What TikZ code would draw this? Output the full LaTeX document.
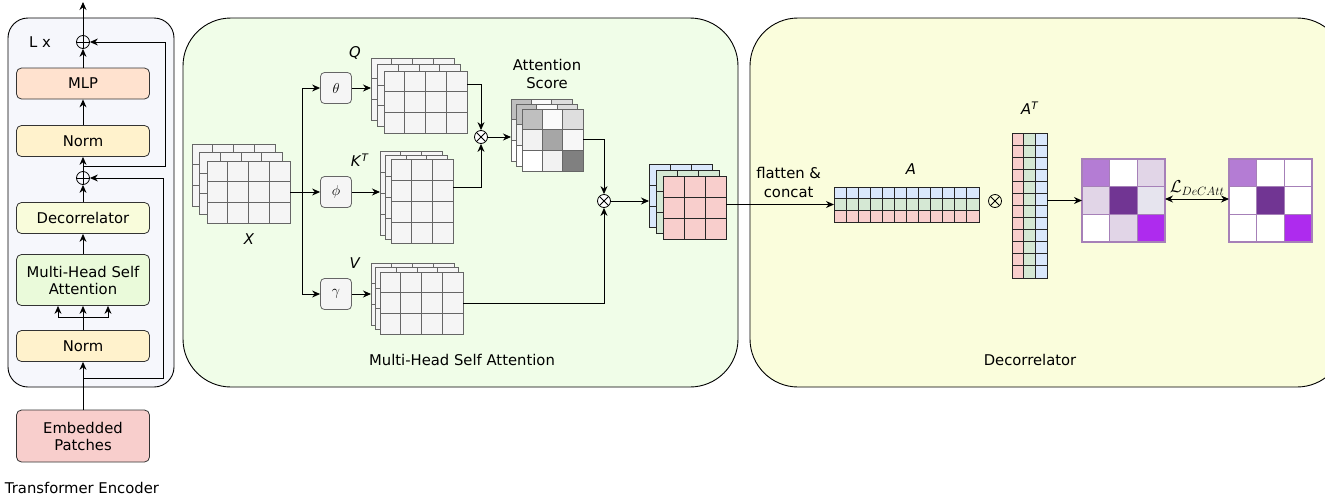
\documentclass[tikz,border=0pt]{standalone}
\usepackage{fontspec}
\setmainfont{DejaVu Sans}
\usetikzlibrary{arrows.meta,positioning}

\definecolor{encbg}{HTML}{F6F7FC}
\definecolor{mhsabg}{HTML}{F0FDE8}
\definecolor{decbg}{HTML}{FAFDDC}
\definecolor{mlpfill}{HTML}{FFE2CF}
\definecolor{normfill}{HTML}{FFF2CC}
\definecolor{decfill}{HTML}{F9FCDB}
\definecolor{mhsafill}{HTML}{EAFADA}
\definecolor{cpink}{HTML}{F8CECC}
\definecolor{cgreen}{HTML}{D5E8D4}
\definecolor{cblue}{HTML}{DAE8FC}
\definecolor{plight}{HTML}{E1D5E7}
\definecolor{pmid}{HTML}{B47CD4}
\definecolor{pdark}{HTML}{713593}
\definecolor{pbright}{HTML}{AE2BEE}
\definecolor{pgrey}{HTML}{E6E4EE}
\definecolor{pline}{HTML}{A680B8}

% one layer of a matrix: x, y, cols, rows, cell w, cell h, style
\newcommand{\gridlayer}[7]{%
  \foreach \ci in {1,...,#3}{\foreach \cj in {1,...,#4}{%
    \draw[#7] ({#1+(\ci-1)*#5},{#2+(\cj-1)*#6}) rectangle ++(#5,#6);}}}

\begin{document}
\begin{tikzpicture}[x=1pt,y=-1pt,
  font=\fontsize{14.8}{17}\selectfont,
  arr/.style={-{Stealth[length=8pt,width=7pt]},line width=0.9pt},
  dblarr/.style={{Stealth[length=8pt,width=7pt]}-{Stealth[length=8pt,width=7pt]},line width=0.9pt},
  encbox/.style={draw=black!80,rounded corners=5pt,minimum width=133,minimum height=31,align=center,line width=0.8pt},
  fnbox/.style={draw=black!60,fill=black!4,rounded corners=4pt,minimum size=31,line width=0.8pt},
  cell/.style={draw=black!60,fill=black!4,line width=0.9pt},
  hold/.style={inner sep=0,outer sep=0,anchor=north west},
  sumcirc/.style={circle,draw,minimum size=13,inner sep=0,line width=0.8pt,
    path picture={\draw (path picture bounding box.north)--(path picture bounding box.south)
      (path picture bounding box.west)--(path picture bounding box.east);}},
  prodcirc/.style={circle,draw,fill=white,minimum size=13,inner sep=0,line width=0.8pt,
    path picture={\draw (path picture bounding box.center) +(45:7pt)--+(225:7pt) +(135:7pt)--+(315:7pt);}}]
\useasboundingbox (0,0) rectangle (1325,496);

% panels
\draw[fill=encbg,line width=0.9pt,rounded corners=20] (8,18) rectangle (174,387);
\draw[fill=mhsabg,line width=0.9pt,rounded corners=48] (183,18) rectangle (738,387);
\draw[fill=decbg,line width=0.9pt,rounded corners=48] (750,18) rectangle (1345,387);

% transformer encoder
\node[encbox,fill=normfill] (norm1) at (83,346) {Norm};
\node[encbox,fill=mhsafill,minimum height=51] (mhsa) at (83,280) {Multi-Head Self\\Attention};
\node[encbox,fill=decfill] (decor) at (83,218) {Decorrelator};
\node[sumcirc] (add1) at (83,178) {};
\node[encbox,fill=normfill] (norm2) at (83,141) {Norm};
\node[encbox,fill=mlpfill] (mlp) at (83,83.5) {MLP};
\node[sumcirc] (add2) at (83,42) {};
\node[encbox,fill=cpink,minimum height=52] (emb) at (83,436) {Embedded\\Patches};
\coordinate (out) at (83,2);
\node (lx) at (40,42) {L x};
\node (enclabel) at (82,488) {Transformer Encoder};

\coordinate (skip1) at (83,378);
\coordinate (skip2) at (83,166);
\draw[arr] (emb) -- (norm1);
\draw[arr] (skip1) -- ++(80,0) |- (add1.east);
\draw (norm1.north) -- ++(0,-13) coordinate (fork);
\draw[arr] (fork) -| ([xshift=-25pt]mhsa.south);
\draw[arr] (fork) -| ([xshift=25pt]mhsa.south);
\draw[arr] (norm1) -- (mhsa);
\draw[arr] (mhsa) -- (decor);
\draw[arr] (decor) -- (add1);
\draw[arr] (add1) -- (norm2);
\draw[arr] (skip2) -- ++(82,0) |- (add2.east);
\draw[arr] (norm2) -- (mlp);
\draw[arr] (mlp) -- (add2);
\draw[arr] (add2) -- (out);

% multi-head self attention
\foreach \dx/\dy in {0/0,7.5/8.5,15/17}
  \gridlayer{192+\dx}{144+\dy}{4}{3}{20.75}{20.67}{cell};
\node[hold,minimum width=98,minimum height=79] (X) at (192,144) {};
\node (xlab) at (249,239) {\textit{X}};

\foreach \dx/\dy in {0/0,6.5/6.5,13/13}
  \gridlayer{371+\dx}{58+\dy}{4}{3}{20.75}{20.67}{cell};
\node[hold,minimum width=96,minimum height=75] (Q) at (371,58) {};
\node (qlab) at (355,53) {\textit{Q}};

\foreach \dx/\dy in {0/0,5.5/4,11/8}
  \gridlayer{380+\dx}{151+\dy}{3}{4}{20.67}{21}{cell};
\node[hold,minimum width=73,minimum height=92] (K) at (380,151) {};
\node (klab) at (360,160) {\textit{K}\textsuperscript{\textit{T}}};

\foreach \dx/\dy in {0/0,4.5/4.5,9/9}
  \gridlayer{371+\dx}{263+\dy}{4}{3}{20.75}{20.67}{cell};
\node[hold,minimum width=92,minimum height=71] (V) at (371,263) {};
\node (vlab) at (355,263) {\textit{V}};

\node[fnbox] (theta) at (336,88) {$\theta$};
\node[fnbox] (phi) at (336,192) {$\phi$};
\node[fnbox] (gamma) at (336,294) {$\gamma$};
\coordinate (split) at (302,192);
\draw[line width=0.9pt] (X.east |- split) -- (split);
\draw[arr] (split) |- (theta);
\draw[arr] (split) -- (phi);
\draw[arr] (split) |- (gamma);
\draw[arr] (theta) -- (theta -| Q.west);
\draw[arr] (phi) -- (phi -| K.west);
\draw[arr] (gamma) -- (gamma -| V.west);

% attention score
\foreach \dx/\dy in {0/0,5.5/5,11/10}
  \foreach \g [count=\k from 0] in {25,2,13,5,35,3,0,5,50}{
    \pgfmathtruncatemacro\col{mod(\k,3)}
    \pgfmathtruncatemacro\row{div(\k,3)}
    \draw[draw=black!60,fill=black!\g,line width=0.9pt] ({511+\dx+\col*20.33},{99+\dy+\row*20.67}) rectangle ++(20.33,20.67);
  }
\node[hold,minimum width=72,minimum height=72] (att) at (511,99) {};
\node[align=center,font=\fontsize{14.8}{18}\selectfont] (attlab) at (547,74) {Attention\\Score};

\node[prodcirc] (prod1) at (481,137) {};
\node[prodcirc] (prod2) at (604,201) {};
\draw[arr] ([yshift=-26pt]Q.north east) -| (prod1);
\draw[arr] ([yshift=-36pt]K.north east) -| (prod1);
\draw[arr] (prod1) -- (prod1 -| att.west);
\draw[arr] ([yshift=-40pt]att.north east) -| (prod2);
\draw[arr] ([yshift=-40pt]V.north east) -| (prod2);

\foreach \dx/\dy/\c in {0/0/cblue,7/6/cgreen,14/12/cpink}
  \gridlayer{649+\dx}{164+\dy}{3}{3}{21}{21}{draw=black!85,fill=\c,line width=0.9pt};
\node[hold,minimum width=77,minimum height=75] (outs) at (649,164) {};
\draw[arr] (prod2) -- (prod2 -| outs.west);

\node (mhsalab) at (462,360) {Multi-Head Self Attention};

% decorrelator
\foreach \c [count=\r from 0] in {cblue,cgreen,cpink}
  \gridlayer{834}{187+\r*11.67}{12}{1}{12.08}{11.67}{draw=black!85,fill=\c,line width=0.8pt};
\node[hold,minimum width=145,minimum height=35] (A) at (834,187) {};
\node (alab) at (911,169) {\textit{A}};

\foreach \c [count=\r from 0] in {cpink,cgreen,cblue}
  \gridlayer{1012+\r*11.67}{133}{1}{12}{11.67}{12.08}{draw=black!85,fill=\c,line width=0.8pt};
\node[hold,minimum width=35,minimum height=145] (AT) at (1012,133) {};
\node (atlab) at (1030,108) {\textit{A}\textsuperscript{\textit{T}}};

\node[prodcirc,fill=none] (mul) at (995,201) {};

\foreach \c [count=\k from 0] in {pmid,white,plight,plight,pdark,pgrey,white,plight,pbright}{
  \pgfmathtruncatemacro\col{mod(\k,3)}
  \pgfmathtruncatemacro\row{div(\k,3)}
  \draw[draw=pline,fill=\c,line width=1.2pt] ({1082+\col*27.67},{159+\row*27.67}) rectangle ++(27.67,27.67);
}
\node[hold,minimum width=83,minimum height=83] (P1) at (1082,159) {};

\foreach \c [count=\k from 0] in {pmid,white,white,white,pdark,white,white,white,pbright}{
  \pgfmathtruncatemacro\col{mod(\k,3)}
  \pgfmathtruncatemacro\row{div(\k,3)}
  \draw[draw=pline,fill=\c,line width=1.2pt] ({1229+\col*27.67},{159+\row*27.67}) rectangle ++(27.67,27.67);
}
\node[hold,minimum width=83,minimum height=83] (P2) at (1229,159) {};

\draw[arr] (outs.east |- A.west) -- (A.west)
  node[pos=0.58,above=3pt,align=center,font=\fontsize{14.8}{19}\selectfont] {flatten \&\\concat};
\draw[arr] (AT.east |- P1.west) -- (P1.west);
\draw[dblarr] ([yshift=1.5pt]P1.east) -- ([yshift=1.5pt]P2.west)
  node[midway,above=0pt,font=\fontsize{18}{20}\selectfont] {$\mathcal{L}_{DeCAtt}$};

\node (declab) at (1030,360) {Decorrelator};
\end{tikzpicture}
\end{document}
